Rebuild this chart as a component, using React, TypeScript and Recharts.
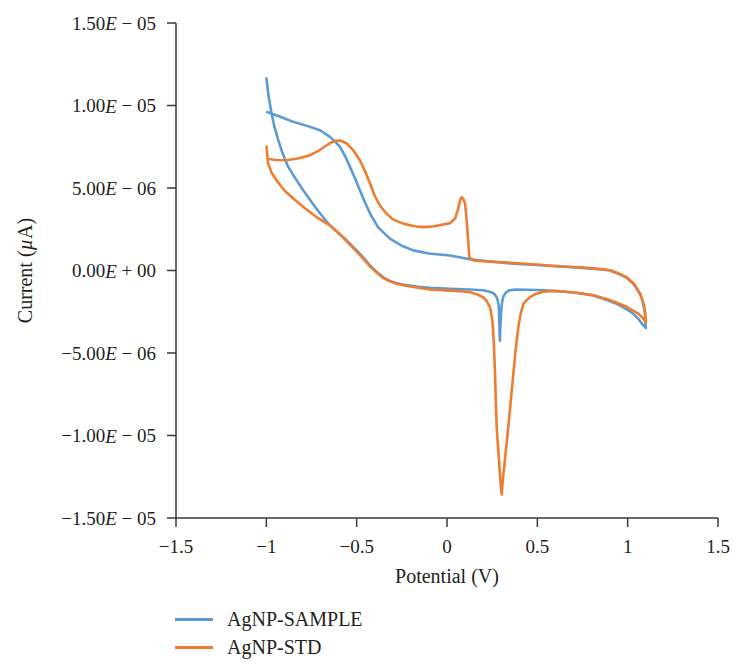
import { LineChart, Line, XAxis, YAxis } from "recharts";

// potential (V) and current (x1e-6 A)
const sampleFwdV = [-1.0, -0.93, -0.851, -0.77, -0.703, -0.648, -0.62, -0.592, -0.565, -0.537, -0.51, -0.482, -0.455, -0.426, -0.38, -0.316, -0.25, -0.187, -0.1, 0.017, 0.127, 0.25, 0.349, 0.47, 0.626, 0.75, 0.84, 0.903, 0.95, 0.995, 1.035, 1.069, 1.085, 1.096, 1.1];
const sampleFwdI = [9.62, 9.35, 9.01, 8.75, 8.5, 8.1, 7.82, 7.49, 6.95, 6.28, 5.6, 4.86, 4.15, 3.45, 2.6, 1.93, 1.5, 1.22, 1.03, 0.91, 0.68, 0.53, 0.43, 0.35, 0.24, 0.16, 0.08, 0.0, -0.2, -0.45, -0.85, -1.42, -1.95, -2.6, -3.48];
const sampleRevV = [1.085, 1.06, 1.032, 0.995, 0.94, 0.88, 0.81, 0.72, 0.626, 0.54, 0.45, 0.38, 0.345, 0.327, 0.315, 0.308, 0.303, 0.299, 0.295, 0.293, 0.29, 0.287, 0.283, 0.275, 0.262, 0.247, 0.2, 0.127, 0.017, -0.094, -0.168, -0.23, -0.279, -0.32, -0.353, -0.39, -0.426, -0.46, -0.5, -0.54, -0.574, -0.62, -0.666, -0.73, -0.796, -0.84, -0.879, -0.91, -0.934, -0.955, -0.971, -0.988, -1.0];
const sampleRevI = [-3.3, -2.95, -2.63, -2.35, -2.02, -1.78, -1.52, -1.36, -1.26, -1.2, -1.17, -1.16, -1.2, -1.32, -1.52, -1.72, -2.1, -2.63, -3.4, -4.25, -3.3, -2.23, -1.9, -1.62, -1.42, -1.32, -1.2, -1.15, -1.11, -1.05, -0.97, -0.88, -0.77, -0.62, -0.41, -0.08, 0.3, 0.75, 1.22, 1.65, 2.02, 2.45, 2.95, 3.85, 4.86, 5.6, 6.28, 7.1, 7.9, 8.7, 9.52, 10.6, 11.7];

const stdFwdV = [-1.0, -0.95, -0.888, -0.82, -0.758, -0.71, -0.666, -0.64, -0.62, -0.59, -0.555, -0.52, -0.482, -0.455, -0.426, -0.399, -0.37, -0.334, -0.3, -0.242, -0.18, -0.131, -0.07, 0.017, 0.045, 0.063, 0.072, 0.081, 0.09, 0.1, 0.106, 0.112, 0.118, 0.124, 0.135, 0.146, 0.25, 0.349, 0.47, 0.626, 0.75, 0.84, 0.903, 0.95, 0.995, 1.035, 1.069, 1.085, 1.096, 1.1];
const stdFwdI = [6.79, 6.7, 6.68, 6.8, 6.99, 7.26, 7.59, 7.76, 7.86, 7.88, 7.7, 7.3, 6.68, 6.05, 5.27, 4.5, 3.92, 3.44, 3.1, 2.84, 2.68, 2.63, 2.68, 2.87, 3.15, 3.8, 4.25, 4.45, 4.35, 4.05, 3.4, 2.63, 1.6, 0.81, 0.68, 0.61, 0.54, 0.47, 0.38, 0.26, 0.18, 0.1, 0.02, -0.18, -0.41, -0.8, -1.42, -1.9, -2.43, -3.14];
const stdRevV = [1.085, 1.06, 1.032, 0.995, 0.94, 0.884, 0.81, 0.72, 0.626, 0.57, 0.53, 0.49, 0.46, 0.44, 0.423, 0.408, 0.395, 0.38, 0.367, 0.353, 0.339, 0.325, 0.312, 0.306, 0.303, 0.298, 0.293, 0.284, 0.275, 0.27, 0.266, 0.26, 0.253, 0.245, 0.238, 0.22, 0.201, 0.16, 0.127, 0.09, 0.017, -0.094, -0.168, -0.23, -0.279, -0.32, -0.353, -0.39, -0.426, -0.46, -0.5, -0.54, -0.574, -0.612, -0.648, -0.722, -0.79, -0.851, -0.9, -0.944, -0.972, -0.99, -1.0];
const stdRevI = [-2.9, -2.62, -2.45, -2.2, -1.95, -1.72, -1.5, -1.35, -1.26, -1.25, -1.3, -1.42, -1.62, -1.8, -2.02, -2.6, -3.44, -4.8, -6.28, -7.9, -9.52, -11.0, -12.35, -13.1, -13.57, -13.1, -12.35, -10.9, -9.52, -7.9, -6.28, -4.6, -3.24, -2.6, -2.23, -1.85, -1.62, -1.42, -1.32, -1.27, -1.22, -1.15, -1.03, -0.92, -0.8, -0.64, -0.45, -0.12, 0.25, 0.68, 1.15, 1.6, 2.0, 2.38, 2.73, 3.24, 3.8, 4.36, 4.85, 5.47, 5.95, 6.48, 7.59];

const xTicks = [-1.5, -1, -0.5, 0, 0.5, 1, 1.5];
const yTicks = [-15, -10, -5, 0, 5, 10, 15];

const seriesNames = ["AgNP-SAMPLE", "AgNP-STD"];
const seriesColors = ["#5b9bd5", "#ed7d31"];

const toPoints = (vs: number[], is: number[]) => vs.map((v, k) => ({ v, i: is[k] }));
const sampleData = [...toPoints(sampleFwdV, sampleFwdI), ...toPoints(sampleRevV, sampleRevI)];
const stdData = [...toPoints(stdFwdV, stdFwdI), ...toPoints(stdRevV, stdRevI)];

const FONT = "Liberation Serif";
const INK = "#231f20";
const AXIS = "#3a3a3a";

// value is in units of 1e-6
function sciParts(val: number) {
  if (val === 0) return { m: "0.00", s: "+", e: "00" };
  const exp = Math.floor(Math.log10(Math.abs(val)) + 1e-9);
  const mant = Math.abs(val) / Math.pow(10, exp);
  const e = exp - 6;
  return {
    m: (val < 0 ? "\u2212" : "") + mant.toFixed(2),
    s: e < 0 ? "\u2212" : "+",
    e: String(Math.abs(e)).padStart(2, "0"),
  };
}

const YTick = (props: any) => {
  const { x, y, payload } = props;
  const p = sciParts(payload.value);
  return (
    <text x={x} y={y} textAnchor="end" dominantBaseline="central" fontFamily={FONT} fontSize={19} fill={INK}>
      {p.m}
      <tspan fontStyle="italic">E</tspan>
      {" " + p.s + " " + p.e}
    </text>
  );
};

const XTick = (props: any) => {
  const { x, y, payload } = props;
  const v = payload.value as number;
  const txt = v < 0 ? "\u2212" + String(Math.abs(v)) : String(v);
  return (
    <text x={x} y={y} textAnchor="middle" dominantBaseline="central" fontFamily={FONT} fontSize={19} fill={INK}>
      {txt}
    </text>
  );
};

const xLabel = (props: any) => {
  const vb = props.viewBox || {};
  return (
    <text x={vb.x + vb.width / 2} y={vb.y + 58} textAnchor="middle" dominantBaseline="central" fontFamily={FONT} fontSize={20} fill={INK}>
      Potential (V)
    </text>
  );
};

const yLabel = (props: any) => {
  const vb = props.viewBox || {};
  const cy = vb.y + vb.height / 2;
  return (
    <text x={25} y={cy} transform={`rotate(-90, 25, ${cy})`} textAnchor="middle" dominantBaseline="central" fontFamily={FONT} fontSize={20} fill={INK}>
      Current (<tspan fontStyle="italic">µ</tspan>A)
    </text>
  );
};

export default function App() {
  return (
    <div style={{ position: "absolute", left: 0, top: 0, width: 743, height: 671, background: "#fff" }}>
      <LineChart width={743} height={600} margin={{ top: 23, right: 25, bottom: 0, left: 0 }}>
        <XAxis
          type="number"
          dataKey="v"
          domain={[-1.5, 1.5]}
          ticks={xTicks}
          allowDataOverflow
          height={82}
          tickSize={9}
          tickMargin={19}
          stroke={AXIS}
          strokeWidth={1.5}
          tick={<XTick />}
          label={xLabel}
        />
        <YAxis
          type="number"
          dataKey="i"
          domain={[-15, 15]}
          ticks={yTicks}
          allowDataOverflow
          width={176}
          tickSize={9}
          tickMargin={11}
          stroke={AXIS}
          strokeWidth={1.5}
          tick={<YTick />}
          label={yLabel}
        />
        <Line data={sampleData} dataKey="i" name={seriesNames[0]} type="linear" stroke={seriesColors[0]} strokeWidth={2.6} strokeLinejoin="round" dot={false} isAnimationActive={false} />
        <Line data={stdData} dataKey="i" name={seriesNames[1]} type="linear" stroke={seriesColors[1]} strokeWidth={2.6} strokeLinejoin="round" dot={false} isAnimationActive={false} />
      </LineChart>
      <div style={{ position: "absolute", left: 175, top: 605, fontFamily: FONT, fontSize: 20, color: INK }}>
        {seriesNames.map((name, k) => (
          <div key={name} style={{ display: "flex", alignItems: "center", height: 28 }}>
            <span style={{ display: "inline-block", width: 38, height: 3, background: seriesColors[k], marginRight: 14 }} />
            <span>{name}</span>
          </div>
        ))}
      </div>
    </div>
  );
}
